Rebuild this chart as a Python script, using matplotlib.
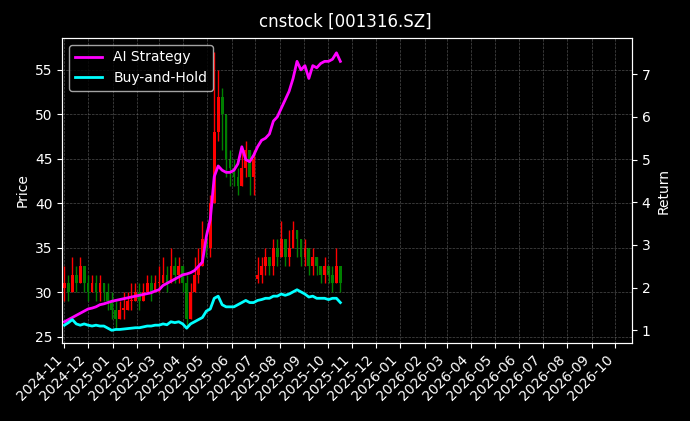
import matplotlib
matplotlib.use("Agg")
import matplotlib.pyplot as plt
import matplotlib.dates as mdates
import pandas as pd
import numpy as np

dates = pd.date_range('2024-11-01', '2025-10-17', freq='5D')
closes = [31,30,32,31,33,31, 30,31,30,31,30,29,28, 27,28,28,29,29,30, 29,30,31,30,31,
          31,32,31,33,32,33,31, 27,30,32,33,36,35, 40,48,52,50,45,44, 43,42,44,46,43,45,
          32,33,34,33,35,34, 36,34,35,37,36,34, 35,33,34,33,32,33, 32,31,33,31]
highs = [33,32,34,33,34,33, 32,32,32,32,31,31,30, 29,29,30,30,31,31, 31,31,32,32,32,
         33,34,33,35,34,34,33, 32,31,34,35,38,37, 41,57,55,53,50,46, 45,44,46,47,46,46,
         34,34,35,34,36,36, 38,36,37,38,37,36, 36,35,35,34,33,34, 33,33,35,33]
lows = [29,29,30,30,31,30, 29,30,29,29,29,28,27, 26,27,27,28,28,29, 28,29,30,29,30,
        30,31,30,31,31,31,30, 26,27,30,31,33,34, 34,40,47,46,43,42, 42,41,42,43,41,41,
        31,31,32,32,32,33, 34,33,33,35,34,33, 33,32,32,32,31,31, 31,30,31,30]
opens = [30.5] + closes[:48] + [31.5] + closes[49:-1]
ai = [1.2,1.25,1.3,1.35,1.4,1.45, 1.5,1.52,1.55,1.6,1.62,1.65,1.68, 1.7,1.72,1.74,1.76,1.78,1.8,
      1.82,1.84,1.86,1.88,1.92, 1.95,2.05,2.1,2.15,2.2,2.25,2.3, 2.32,2.35,2.4,2.5,2.6,3.2,
      3.6,4.6,4.85,4.75,4.7,4.7, 4.75,4.9,5.3,5.0,4.95,5.1, 5.3,5.45,5.5,5.6,5.9,6.0,
      6.2,6.4,6.6,6.9,7.3,7.1, 7.2,6.9,7.2,7.15,7.25,7.3, 7.3,7.35,7.5,7.3]
bh = [1.12,1.18,1.25,1.15,1.12,1.15, 1.12,1.1,1.12,1.1,1.1,1.05,1.0, 1.02,1.02,1.03,1.04,1.05,1.06,
      1.06,1.08,1.1,1.1,1.12, 1.12,1.15,1.13,1.2,1.18,1.2,1.15, 1.05,1.15,1.2,1.25,1.3,1.45,
      1.5,1.75,1.8,1.6,1.55,1.55, 1.55,1.6,1.65,1.7,1.65,1.65, 1.7,1.72,1.75,1.75,1.8,1.8,
      1.85,1.82,1.85,1.9,1.95,1.9, 1.85,1.78,1.8,1.75,1.75,1.75, 1.72,1.75,1.75,1.65]

plt.style.use('dark_background')
fig = plt.figure(figsize=(6.9, 4.21), dpi=100)
ax = fig.add_axes([0.09, 0.185, 0.826, 0.725])
fig.suptitle('cnstock [001316.SZ]', y=0.97, fontsize=12)

x = mdates.date2num(dates)
for xi, o, c, h, l in zip(x, opens, closes, highs, lows):
    col = 'red' if c >= o else 'green'
    ax.vlines(xi, l, h, color=col, linewidth=1)
    ax.bar(xi, abs(c - o) if c != o else 0.2, bottom=min(o, c), width=3.5, color=col)
ax.set_ylabel('Price')
ax.set_ylim(24.3, 58.6)
ax.grid(True, linestyle='--', linewidth=0.5, color='gray', alpha=0.6)

ax2 = ax.twinx()
ax2.plot(dates, ai, color='magenta', linewidth=2, label='AI Strategy')
ax2.plot(dates, bh, color='cyan', linewidth=2, label='Buy-and-Hold')
ax2.set_ylabel('Return')
ax2.set_ylim(0.7, 7.85)
ax2.legend(loc='upper left')

ax.set_xlim(mdates.date2num(pd.Timestamp('2024-10-29')), mdates.date2num(pd.Timestamp('2026-10-22')))
ax.xaxis.set_major_locator(mdates.MonthLocator())
ax.xaxis.set_major_formatter(mdates.DateFormatter('%Y-%m'))
plt.setp(ax.get_xticklabels(), rotation=45, ha='right')
fig.savefig('out.png', facecolor='black')
